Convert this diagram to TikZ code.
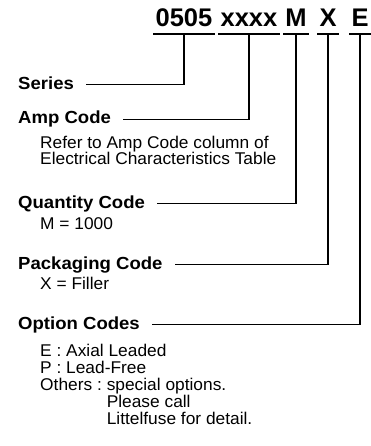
\documentclass[tikz,border=0pt]{standalone}
\usepackage{fontspec}
\setmainfont{Liberation Sans}[FakeStretch=1.02]
\newfontfamily\lblfont{Liberation Sans}[FakeStretch=1.06]
\newfontfamily\hdfont{Liberation Sans}[FakeStretch=1.0]
\begin{document}
\begin{tikzpicture}[x=1pt,y=-1pt,
  hd/.style={font=\hdfont\bfseries\fontsize{25.5}{28}\selectfont, inner sep=0pt, anchor=base},
  lbl/.style={font=\lblfont\bfseries\fontsize{17.5}{19}\selectfont, inner sep=0pt, anchor=base west},
  sub/.style={font=\fontsize{17}{18}\selectfont, inner sep=0pt, anchor=base west},
  conn/.style={line width=1.4pt, line cap=rect}]
\useasboundingbox (0,0) rectangle (370,446);
% header
\node[hd] (h0505) at (184,27) {0505};
\node[hd] (hxxxx) at (249,27) {xxxx};
\node[hd] (hM) at (296,27) {M};
\node[hd] (hX) at (328,27) {X};
\node[hd] (hE) at (360,27) {E};
\foreach \n in {h0505,hxxxx,hM,hX,hE}{
  \draw[conn] ([shift={(-1.5pt,-7pt)}]\n.base west) -- ([shift={(1.5pt,-7pt)}]\n.base east);
}
% labels
\node[lbl] (series) at (18,90) {Series};
\node[lbl] (amp) at (18,124) {Amp Code};
\node[sub] (refer1) at (40,148.5) {Refer to Amp Code column of};
\node[sub] (refer2) at (40,164.5) {Electrical Characteristics Table};
\node[lbl] (qty) at (18,208) {Quantity Code};
\node[sub] (qtyv) at (40,229) {M = 1000};
\node[lbl] (pkg) at (18,269) {Packaging Code};
\node[sub] (pkgv) at (40,289) {X = Filler};
\node[lbl] (opt) at (18,329) {Option Codes};
\node[sub] (optE) at (40,356) {E : Axial Leaded};
\node[sub] (optP) at (40,373) {P : Lead-Free};
\node[sub] (othk) at (40,390) {Others :};
\node[sub] (othv) at ([xshift=4.5pt]othk.base east) {special options.};
\node[sub] (plc) at ([yshift=-17pt]othv.base west) {Please call};
\node[sub] (lit) at ([yshift=-17pt]plc.base west) {Littelfuse for detail.};
% connectors
\draw[conn] ([shift={(13pt,5.5pt)}]series.base east) -| ([yshift=-7pt]h0505.base);
\draw[conn] ([shift={(13pt,4.5pt)}]amp.base east) -| ([yshift=-7pt]hxxxx.base);
\draw[conn] ([shift={(13pt,4.5pt)}]qty.base east) -| ([yshift=-7pt]hM.base);
\draw[conn] ([shift={(13pt,4.5pt)}]pkg.base east) -| ([yshift=-7pt]hX.base);
\draw[conn] ([shift={(13pt,4.5pt)}]opt.base east) -| ([yshift=-7pt]hE.base);
\end{tikzpicture}
\end{document}
